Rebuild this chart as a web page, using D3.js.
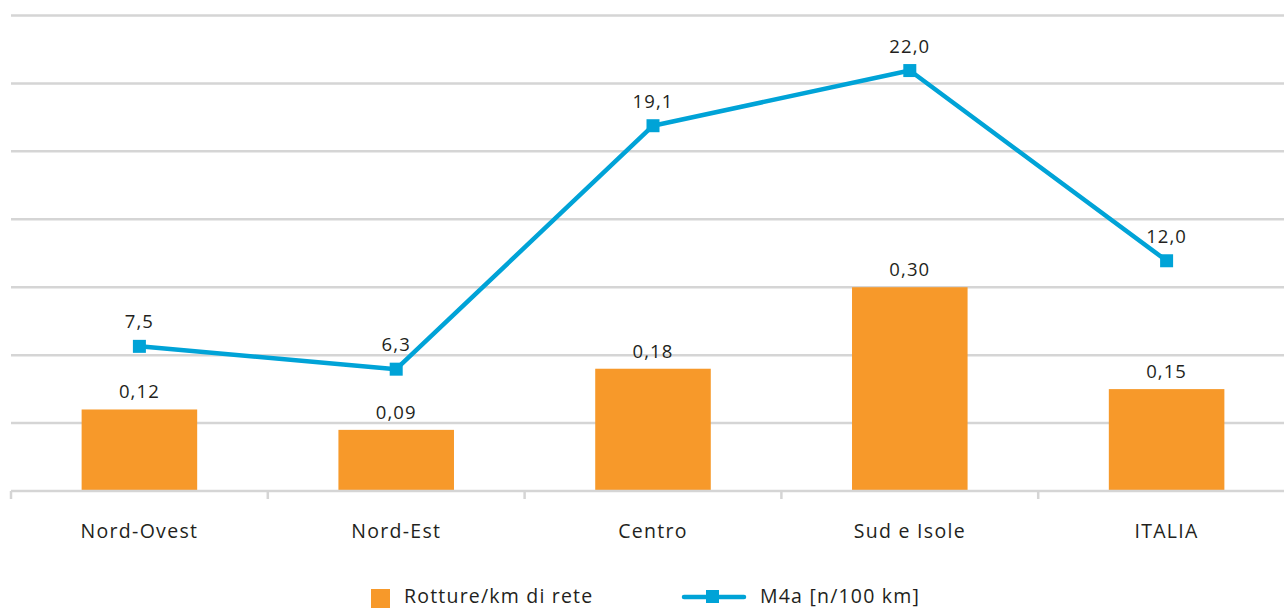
<!DOCTYPE html>
<html><head><meta charset="utf-8">
<script src="https://cdn.jsdelivr.net/npm/d3@7"></script>
<style>body{margin:0;background:#fff}svg{display:block}text{font-family:"Open Sans",Lato,sans-serif;fill:#231f20}</style>
</head><body><svg id="c" width="1284" height="608"></svg>
<script>
const categories = ["Nord-Ovest","Nord-Est","Centro","Sud e Isole","ITALIA"];
const rotture = [0.12,0.09,0.18,0.30,0.15];
const m4a = [7.5,6.3,19.1,22.0,12.0];
const leftTicks = [0,0.1,0.2,0.3,0.4,0.5,0.6,0.7];
const seriesNames = ["Rotture/km di rete","M4a [n/100 km]"];

const svg = d3.select("#c");
const pLeft = 11, pRight = 1295, pTop = 15.5, pBottom = 491, clipRight = 1284;
const x = d3.scaleBand().domain(categories).range([pLeft,pRight]).paddingInner(0.55).paddingOuter(0.275);
const xb = d3.scaleBand().domain(categories).range([pLeft,pRight]);
const y = d3.scaleLinear().domain([0,0.7]).range([pBottom,pTop]);
const y2 = d3.scaleLinear().domain([0,25]).range([pBottom-2,pTop-2]);
const fmt = (v,d)=>v.toFixed(d).replace(".",",");
const orange="#f7992a", blue="#00a3d7", grid="#d5d5d5";

// gridlines
svg.append("g").selectAll("line").data(leftTicks.slice(1)).join("line")
  .attr("x1",pLeft).attr("x2",clipRight).attr("y1",d=>y(d)).attr("y2",d=>y(d))
  .attr("stroke",grid).attr("stroke-width",2.5);

// bars
svg.append("g").selectAll("rect").data(rotture).join("rect")
  .attr("x",(d,i)=>x(categories[i])).attr("width",x.bandwidth())
  .attr("y",d=>y(d)).attr("height",d=>pBottom-y(d)).attr("fill",orange);

// x axis
const ax = svg.append("g").attr("transform",`translate(0,${pBottom})`);
ax.append("line").attr("x1",pLeft).attr("x2",clipRight).attr("stroke",grid).attr("stroke-width",2.5);
const tickXs = categories.map(c=>xb(c));
ax.selectAll("line.t").data(tickXs).join("line").attr("class","t")
  .attr("x1",d=>d).attr("x2",d=>d).attr("y1",0).attr("y2",8).attr("stroke",grid).attr("stroke-width",2.5);
ax.selectAll("text").data(categories).join("text")
  .attr("x",d=>xb(d)+xb.bandwidth()/2).attr("y",47).attr("text-anchor","middle")
  .attr("font-size",19.5).attr("letter-spacing",1.3).text(d=>d);

// bar labels
svg.append("g").selectAll("text").data(rotture).join("text")
  .attr("x",(d,i)=>x(categories[i])+x.bandwidth()/2).attr("y",d=>y(d)-11)
  .attr("text-anchor","middle").attr("font-size",18.5).attr("letter-spacing",1.1).text(d=>fmt(d,2));

// line
const cx = i=>xb(categories[i])+xb.bandwidth()/2;
svg.append("path").datum(m4a)
  .attr("d",d3.line().x((d,i)=>cx(i)).y(d=>y2(d)))
  .attr("fill","none").attr("stroke",blue).attr("stroke-width",4.5).attr("stroke-linejoin","round");
svg.append("g").selectAll("rect").data(m4a).join("rect")
  .attr("x",(d,i)=>cx(i)-6.5).attr("y",d=>y2(d)-6.5).attr("width",13).attr("height",13).attr("fill",blue);
svg.append("g").selectAll("text").data(m4a).join("text")
  .attr("x",(d,i)=>cx(i)).attr("y",d=>y2(d)-18)
  .attr("text-anchor","middle").attr("font-size",18.5).attr("letter-spacing",1.1).text(d=>fmt(d,1));

// legend
const lg = svg.append("g");
lg.append("rect").attr("x",371).attr("y",589).attr("width",19).attr("height",19).attr("fill",orange);
lg.append("text").attr("x",404).attr("y",603).attr("font-size",19.5).attr("letter-spacing",1.2).text(seriesNames[0]);
lg.append("line").attr("x1",684).attr("x2",744).attr("y1",597).attr("y2",597).attr("stroke",blue).attr("stroke-width",4.5).attr("stroke-linecap","round");
lg.append("rect").attr("x",706).attr("y",590).attr("width",13).attr("height",13).attr("fill",blue);
lg.append("text").attr("x",760).attr("y",603).attr("font-size",19.5).attr("letter-spacing",1.2).text(seriesNames[1]);
</script></body></html>
